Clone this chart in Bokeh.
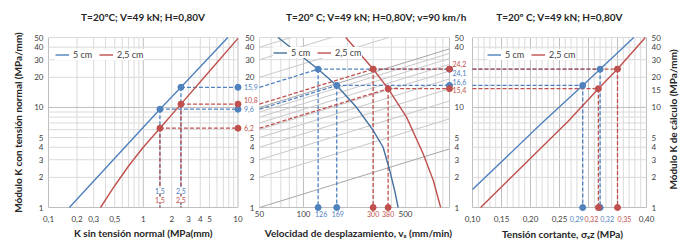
import math
from bokeh.plotting import figure
from bokeh.models import Range1d, Label, Legend, LegendItem, LogScale, LinearScale
from bokeh.embed import file_html
from bokeh.resources import INLINE

# ---------------- data ----------------
k_ticks = [1, 2, 3, 4, 5, 10, 20, 30, 40, 50]
k_grid_major = [1, 10]
k_grid_minor = [2, 3, 4, 5, 6, 7, 8, 9, 20, 30, 40, 50]

# Panel 1 : K con tension normal vs K sin tension normal
p1_title = "T=20ºC; V=49 kN; H=0,80V"
p1_xlabel = "K sin tensión normal (MPa(mm)"
p1_ylabel = "Módulo K con tensión normal (MPa/mm)"
p1_xticks = [0.1, 0.2, 0.3, 0.5, 1, 2, 3, 4, 5, 10]
p1_xgrid_major = [0.1, 1, 10]
p1_xgrid_minor = [0.2, 0.3, 0.4, 0.5, 0.6, 0.7, 0.8, 0.9, 2, 3, 4, 5, 6, 7, 8, 9]
p1_blue_x = [0.166, 0.5, 1.5, 2.5, 7.8]
p1_blue_k = [1.0, 3.1, 9.6, 15.9, 50.0]
p1_red_x = [0.354, 0.5, 0.7, 1.0, 1.5, 2.5, 5.0, 10.0]
p1_red_k = [1.0, 1.65, 2.6, 4.0, 6.2, 10.8, 23.0, 49.0]
p1_blue_pt_x = [1.5, 2.5]
p1_blue_pt_k = [9.6, 15.9]
p1_red_pt_x = [1.5, 2.5]
p1_red_pt_k = [6.2, 10.8]
p1_blue_pt_lbl = ["9,6", "15,9"]
p1_red_pt_lbl = ["6,2", "10,8"]
p1_x_lbl = ["1,5", "2,5"]

# Panel 2 : velocidad de desplazamiento
p2_title = "T=20º C; V=49 kN; H=0,80V; v=90 km/h"
p2_xlabel = "Velocidad de desplazamiento, vₓ (mm/min)"
p2_xticks = [50, 100, 500]
p2_xgrid_major = [100, 1000]
p2_xgrid_minor = [50, 60, 70, 80, 90, 200, 300, 400, 500, 600, 700, 800, 900]
p2_left_ticks = [1, 2, 3, 4, 5, 20, 30, 40, 50]
p2_right_ticks = [1, 2, 3, 4, 5, 10, 40, 50]
p2_blue_v = [67, 126, 169, 230, 300, 351, 390, 421, 445]
p2_blue_k = [50.0, 24.1, 16.6, 10.1, 5.9, 4.0, 2.34, 1.48, 1.0]
p2_red_v = [195, 300, 380, 508, 660, 775, 870]
p2_red_k = [50.0, 24.2, 15.4, 8.0, 3.44, 1.86, 1.0]
p2_blue_pt_v = [126, 169]
p2_blue_pt_k = [24.1, 16.6]
p2_blue_from_k = [15.9, 9.6]
p2_red_pt_v = [300, 380]
p2_red_pt_k = [24.2, 15.4]
p2_red_from_k = [10.8, 6.2]
p2_blue_v_lbl = ["126", "169"]
p2_red_v_lbl = ["300", "380"]
p2_blue_k_lbl = ["24,1", "16,6"]
p2_red_k_lbl = ["24,2", "15,4"]
# family of reference lines: K read at v=50 and at v=1000
p2_fam_v = [50, 1000]
p2_fam_k50 = [1, 2, 3, 4, 5, 6, 7, 8, 9, 10, 20, 30, 40]
p2_fam_k1000 = [3.85, 7.7, 11.6, 15.4, 19.3, 23.1, 27.0, 30.8, 34.7, 38.5, 77, 116, 154]

# Panel 3 : tension cortante
p3_title = "T=20º C; V=49 kN; H=0,80V"
p3_xlabel = "Tensión cortante, σₓz (MPa)"
p3_ylabel = "Módulo K de cálculo (MPa/mm)"
p3_xticks = [0.10, 0.15, 0.20, 0.25, 0.40]
p3_xgrid_major = [0.10, 0.15, 0.20, 0.25, 0.30, 0.35, 0.40]
p3_xgrid_minor = [0.11, 0.12, 0.13, 0.14, 0.16, 0.17, 0.18, 0.19, 0.21, 0.22, 0.23, 0.24,
                  0.26, 0.27, 0.28, 0.29, 0.31, 0.32, 0.33, 0.34, 0.36, 0.37, 0.38, 0.39]
p3_yticks = [1, 2, 3, 4, 5, 10, 15, 20, 30, 40, 50]
p3_blue_s = [0.10, 0.2225, 0.29, 0.32, 0.378]
p3_blue_k = [1.51, 7.24, 16.6, 24.1, 50.0]
p3_red_s = [0.114, 0.19, 0.2645, 0.317, 0.35, 0.398]
p3_red_k = [1.0, 2.72, 7.24, 15.4, 24.2, 50.0]
p3_blue_pt_s = [0.29, 0.32]
p3_blue_pt_k = [16.6, 24.1]
p3_red_pt_s = [0.317, 0.35]
p3_red_pt_k = [15.4, 24.2]
p3_blue_s_lbl = ["0,29", "0,32"]
p3_red_s_lbl = ["0,32", "0,35"]

legend_labels = ["5 cm", "2,5 cm"]

# ---------------- layout (page pixels, measured from the top-left) ----------------
W, H = 695, 240
Y50_TOP, Y1_TOP = 37, 207
P1_PX = (48, 237.5)              # x of 0.1 and 10
P2_PX = (259, 449)               # x of 50 and 1000
P3_PX = (472, 646)               # x of 0.10 and 0.40

BLUE = "#4f81bd"
BLUE2 = "#44709d"
RED = "#c0504d"
FONT = "Lato"
GRID_MAJ = "#bfbfbf"
GRID_MIN = "#dadada"
TXT = "#404040"
TITLE = "#262626"
DASH = "4 2"
TICK_FS = "8px"
DATA_FS = "7px"


def log_range(a, b, pa, pb, size):
    per = (math.log10(b) - math.log10(a)) / (pb - pa)
    return Range1d(10 ** (math.log10(a) - pa * per), 10 ** (math.log10(b) + (size - pb) * per))


def lin_range(a, b, pa, pb, size):
    per = (b - a) / (pb - pa)
    return Range1d(a - pa * per, b + (size - pb) * per)


p = figure(width=W, height=H, x_axis_type="log", y_axis_type="log",
           x_range=log_range(0.1, 10, P1_PX[0], P1_PX[1], W),
           y_range=log_range(1, 50, H - Y1_TOP, H - Y50_TOP, H),
           x_axis_location=None, y_axis_location=None, min_border=0,
           toolbar_location=None, output_backend="svg")
p.extra_x_ranges = {"p2": log_range(50, 1000, P2_PX[0], P2_PX[1], W),
                    "p3": lin_range(0.10, 0.40, P3_PX[0], P3_PX[1], W)}
p.extra_x_scales = {"p2": LogScale(), "p3": LinearScale()}
p.outline_line_color = None
p.grid.visible = False
p.background_fill_color = "white"
p.border_fill_color = "white"

K_LO, K_HI = 1, 50


def grid(xs_major, xs_minor, x_lo, x_hi, rng):
    for xs, col in [(xs_minor, GRID_MIN), (xs_major, GRID_MAJ)]:
        p.segment(x0=xs, y0=[K_LO] * len(xs), x1=xs, y1=[K_HI] * len(xs),
                  line_color=col, line_width=1, x_range_name=rng)
    for ks, col in [(k_grid_minor, GRID_MIN), (k_grid_major, GRID_MAJ)]:
        p.segment(x0=[x_lo] * len(ks), y0=ks, x1=[x_hi] * len(ks), y1=ks,
                  line_color=col, line_width=1, x_range_name=rng)


def lbl(x, y, text, color=TXT, rng="default", xo=0, yo=0, align="left",
        size=TICK_FS, bold=False, angle=0, bg=None):
    p.add_layout(Label(x=x, y=y, text=text, x_offset=xo, y_offset=yo,
                       x_range_name=rng, text_font=FONT, text_font_size=size,
                       text_color=color, text_align=align, text_baseline="middle",
                       text_font_style="bold" if bold else "normal", angle=angle,
                       background_fill_color=bg))


def legend(rb, rr, x_left, y_top):
    lg = Legend(items=[LegendItem(label=legend_labels[0], renderers=[rb]),
                       LegendItem(label=legend_labels[1], renderers=[rr])],
                orientation="horizontal", location=(x_left, H - y_top - 15),
                label_text_font=FONT, label_text_font_size="9px",
                label_text_color=TXT, glyph_width=14, glyph_height=9,
                label_height=9, label_standoff=4, spacing=6, padding=3,
                margin=0, border_line_color=None, background_fill_color="white",
                background_fill_alpha=1.0)
    p.add_layout(lg)


def fmt(v, dec=None):
    s = ("%.*f" % (dec, v)) if dec is not None else ("%g" % v)
    return s.replace(".", ",")


# ---------------- panel 1 ----------------
x_lo, x_hi = 0.1, 10
grid(p1_xgrid_major, p1_xgrid_minor, x_lo, x_hi, "default")
for xs, ks, c in [(p1_blue_pt_x, p1_blue_pt_k, BLUE), (p1_red_pt_x, p1_red_pt_k, RED)]:
    for x, k in zip(xs, ks):
        p.line([x, x], [k, K_LO], color=c, line_dash=DASH, line_width=1.3)
        p.line([x, x_hi], [k, k], color=c, line_dash=DASH, line_width=1.3)
rb1 = p.line(p1_blue_x, p1_blue_k, color=BLUE, line_width=1.4)
rr1 = p.line(p1_red_x, p1_red_k, color=RED, line_width=1.4)
for xs, ks, c in [(p1_blue_pt_x, p1_blue_pt_k, BLUE), (p1_red_pt_x, p1_red_pt_k, RED)]:
    p.scatter(xs, ks, size=6, color=c)
    p.scatter([x_hi] * len(ks), ks, size=6, color=c)
legend(rb1, rr1, 55, 45)
for x, t in zip(p1_blue_pt_x, p1_x_lbl):
    lbl(x, K_LO, t, BLUE, yo=17, align="center", size=DATA_FS, bg="white")
for x, t in zip(p1_red_pt_x, p1_x_lbl):
    lbl(x, K_LO, t, RED, yo=8, align="center", size=DATA_FS, bg="white")
for k, t in zip(p1_blue_pt_k, p1_blue_pt_lbl):
    lbl(x_hi, k, t, BLUE, xo=6, size=DATA_FS)
for k, t, yo in zip(p1_red_pt_k, p1_red_pt_lbl, [0, 4]):
    lbl(x_hi, k, t, RED, xo=6, yo=yo, size=DATA_FS)
for x in p1_xticks:
    lbl(x, K_LO, fmt(x), yo=-11, align="center")
for k in k_ticks:
    lbl(x_lo, k, fmt(k), xo=-5, align="right")
lbl(math.sqrt(x_lo * x_hi), K_HI, p1_title, TITLE, yo=21, align="center", size="10px", bold=True)
lbl(math.sqrt(x_lo * x_hi), K_LO, p1_xlabel, TITLE, yo=-25, align="center", size="10px", bold=True)
lbl(x_lo, math.sqrt(K_LO * K_HI), p1_ylabel, TITLE, xo=-31, align="center", size="10px",
    bold=True, angle=math.pi / 2)

# ---------------- panel 2 ----------------
v_lo, v_hi = 50, 1000
grid(p2_xgrid_major, p2_xgrid_minor, v_lo, v_hi, "p2")
lv0, lv1 = math.log10(p2_fam_v[0]), math.log10(p2_fam_v[1])
for k0, k1 in zip(p2_fam_k50, p2_fam_k1000):
    v_end, k_end = p2_fam_v[1], k1
    if k1 > K_HI:  # clip the straight (log-log) line at the top of the panel
        f = (math.log10(K_HI) - math.log10(k0)) / (math.log10(k1) - math.log10(k0))
        v_end, k_end = 10 ** (lv0 + f * (lv1 - lv0)), K_HI
    col = "#a6a6a6" if k0 in (1, 10) else "#c8c8c8"
    p.line([p2_fam_v[0], v_end], [k0, k_end], color=col, line_width=1, x_range_name="p2")

for vs, ks, k0s, c in [(p2_blue_pt_v, p2_blue_pt_k, p2_blue_from_k, BLUE),
                       (p2_red_pt_v, p2_red_pt_k, p2_red_from_k, RED)]:
    for v, k, k0 in zip(vs, ks, k0s):
        p.line([v_lo, v], [k0, k], color=c, line_dash=DASH, line_width=1.3, x_range_name="p2")
        p.line([v, v], [k, K_LO], color=c, line_dash=DASH, line_width=1.3, x_range_name="p2")
        p.line([v, v_hi], [k, k], color=c, line_dash=DASH, line_width=1.3, x_range_name="p2")
rb2 = p.line(p2_blue_v, p2_blue_k, color=BLUE2, line_width=1.4, x_range_name="p2")
rr2 = p.line(p2_red_v, p2_red_k, color=RED, line_width=1.4, x_range_name="p2")
for vs, ks, c in [(p2_blue_pt_v, p2_blue_pt_k, BLUE), (p2_red_pt_v, p2_red_pt_k, RED)]:
    p.scatter(vs, ks, size=6, color=c, x_range_name="p2")
    p.scatter(vs, [K_LO] * len(vs), size=6, color=c, x_range_name="p2")
    p.scatter([v_hi] * len(ks), ks, size=6, color=c, x_range_name="p2")
legend(rb2, rr2, 273, 43)
for v, t, xo in zip(p2_blue_pt_v, p2_blue_v_lbl, [3, 1]):
    lbl(v, K_LO, t, BLUE, rng="p2", xo=xo, yo=-6, align="center", size=DATA_FS)
for v, t in zip(p2_red_pt_v, p2_red_v_lbl):
    lbl(v, K_LO, t, RED, rng="p2", yo=-6, align="center", size=DATA_FS)
for k, t, yo in zip(p2_blue_pt_k, p2_blue_k_lbl, [-4, 3]):
    lbl(v_hi, k, t, BLUE, rng="p2", xo=3, yo=yo, size=DATA_FS)
for k, t, yo in zip(p2_red_pt_k, p2_red_k_lbl, [5, -1]):
    lbl(v_hi, k, t, RED, rng="p2", xo=3, yo=yo, size=DATA_FS)
for v in p2_xticks:
    lbl(v, K_LO, fmt(v), rng="p2", yo=-6, align="center")
for k in p2_left_ticks:
    lbl(v_lo, k, fmt(k), rng="p2", xo=-5, align="right")
for k in p2_right_ticks:
    lbl(v_hi, k, fmt(k), rng="p2", xo=5, align="left")
lbl(math.sqrt(v_lo * v_hi), K_HI, p2_title, TITLE, rng="p2", xo=22, yo=21, align="center",
    size="10px", bold=True)
lbl(math.sqrt(v_lo * v_hi), K_LO, p2_xlabel, TITLE, rng="p2", xo=4, yo=-25, align="center",
    size="10px", bold=True)

# ---------------- panel 3 ----------------
s_lo, s_hi = 0.10, 0.40
grid(p3_xgrid_major, p3_xgrid_minor, s_lo, s_hi, "p3")
for ss, ks, c in [(p3_blue_pt_s, p3_blue_pt_k, BLUE), (p3_red_pt_s, p3_red_pt_k, RED)]:
    for s, k in zip(ss, ks):
        p.line([s_lo, s], [k, k], color=c, line_dash=DASH, line_width=1.3, x_range_name="p3")
        p.line([s, s], [k, K_LO], color=c, line_dash=DASH, line_width=1.3, x_range_name="p3")
rb3 = p.line(p3_blue_s, p3_blue_k, color=BLUE, line_width=1.4, x_range_name="p3")
rr3 = p.line(p3_red_s, p3_red_k, color=RED, line_width=1.4, x_range_name="p3")
for ss, ks, c in [(p3_blue_pt_s, p3_blue_pt_k, BLUE), (p3_red_pt_s, p3_red_pt_k, RED)]:
    p.scatter(ss, ks, size=6, color=c, x_range_name="p3")
    p.scatter(ss, [K_LO] * len(ss), size=6, color=c, x_range_name="p3")
legend(rb3, rr3, 487, 45)
for s, t, xo in zip(p3_blue_pt_s, p3_blue_s_lbl, [-6, 7]):
    lbl(s, K_LO, t, BLUE, rng="p3", xo=xo, yo=-11, align="center", size=DATA_FS)
for s, t, xo in zip(p3_red_pt_s, p3_red_s_lbl, [-7, 7]):
    lbl(s, K_LO, t, RED, rng="p3", xo=xo, yo=-11, align="center", size=DATA_FS)
for s in p3_xticks:
    lbl(s, K_LO, fmt(s, 2), rng="p3", yo=-11, align="center")
for k in p3_yticks:
    lbl(s_hi, k, fmt(k), rng="p3", xo=5, align="left")
lbl((s_lo + s_hi) / 2, K_HI, p3_title, TITLE, rng="p3", yo=21, align="center",
    size="10px", bold=True)
lbl((s_lo + s_hi) / 2, K_LO, p3_xlabel, TITLE, rng="p3", xo=3, yo=-26, align="center",
    size="10px", bold=True)
lbl(s_hi, math.sqrt(K_LO * K_HI), p3_ylabel, TITLE, rng="p3", xo=26, yo=3, align="center",
    size="10px", bold=True, angle=math.pi / 2)

open("out.html", "w").write(file_html(p, INLINE))
